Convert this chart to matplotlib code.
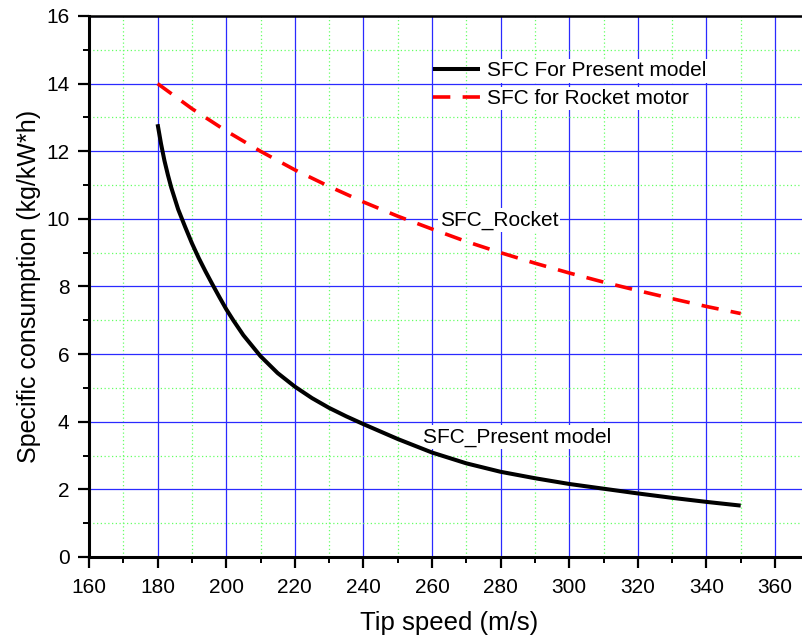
import matplotlib
matplotlib.use("Agg")
import matplotlib.pyplot as plt
from matplotlib.ticker import MultipleLocator

plt.rcParams['font.family'] = ['Liberation Sans', 'DejaVu Sans']

# Data
present_speed = [180, 181, 182, 183, 184, 186, 188, 190, 192, 194, 196, 198, 200, 202, 205,
                 210, 215, 220, 225, 230, 235, 240, 250, 260, 270, 280, 290, 300,
                 310, 320, 330, 340, 350]
present_sfc = [12.8, 12.22, 11.72, 11.3, 10.92, 10.28, 9.77, 9.28, 8.84, 8.44, 8.06, 7.69, 7.33,
               7.01, 6.56, 5.94, 5.44, 5.04, 4.70, 4.41, 4.16, 3.93, 3.49, 3.09, 2.77, 2.52,
               2.33, 2.16, 2.02, 1.88, 1.75, 1.63, 1.52]
rocket_speed = [180, 190, 200, 210, 220, 230, 240, 250, 260, 270, 280, 290, 300,
                310, 320, 330, 340, 350]
rocket_sfc = [14.0, 13.26, 12.6, 12.0, 11.45, 10.96, 10.5, 10.08, 9.7, 9.33, 9.0, 8.69, 8.4,
              8.13, 7.88, 7.64, 7.41, 7.2]

legend_labels = ["SFC For Present model", "SFC for Rocket motor"]
x_label = "Tip speed (m/s)"
y_label = "Specific consumption (kg/kW*h)"

W, H = 803, 638
fig = plt.figure(figsize=(W / 100, H / 100), dpi=100)
left, top, bottom = 89, 16, 557
ax_w = 720.3
ax = fig.add_axes([left / W, 1 - bottom / H, ax_w / W, (bottom - top) / H])

ax.plot(present_speed, present_sfc, color='black', lw=2.9, solid_capstyle='butt',
        solid_joinstyle='round', label=legend_labels[0], zorder=3)
ax.plot(rocket_speed, rocket_sfc, color='#FF0000', lw=2.6, dashes=(4.8, 3.4),
        dash_capstyle='butt', label=legend_labels[1], zorder=3)

ax.set_xlim(160, 370)
ax.set_ylim(0, 16)
ax.xaxis.set_major_locator(MultipleLocator(20))
ax.xaxis.set_minor_locator(MultipleLocator(10))
ax.yaxis.set_major_locator(MultipleLocator(2))
ax.yaxis.set_minor_locator(MultipleLocator(1))

ax.grid(which='major', color='#2a2aff', lw=0.9, zorder=0)
ax.grid(which='minor', color='#66ff66', lw=0.9, linestyle=(0, (1, 2)), zorder=0)
ax.set_axisbelow(True)

for s in ['left', 'bottom']:
    ax.spines[s].set_linewidth(2.2)
ax.spines['top'].set_linewidth(1.8)
ax.spines['right'].set_visible(False)

ax.tick_params(which='major', direction='out', length=8, width=1.6, labelsize=15, pad=6)
ax.tick_params(which='minor', direction='out', length=4.5, width=1.4)
ax.tick_params(axis='x', which='major', pad=7)

ax.set_xlabel(x_label, fontsize=18.5, labelpad=10)
ax.set_ylabel(y_label, fontsize=18, labelpad=4)

leg = ax.legend(loc='upper left', bbox_to_anchor=(0.4776, 0.916), frameon=False,
                fontsize=15, handlelength=2.25, handletextpad=0.35, labelspacing=0.42,
                borderpad=0, borderaxespad=0)
for t in leg.get_texts():
    t.set_bbox(dict(facecolor='white', edgecolor='none', pad=1.5))

ax.text(262.3, 9.97, "SFC_Rocket", fontsize=15, va='center', ha='left',
        bbox=dict(facecolor='white', edgecolor='none', pad=1.5), zorder=2)
ax.text(257.4, 3.55, "SFC_Present model", fontsize=15, va='center', ha='left',
        bbox=dict(facecolor='white', edgecolor='none', pad=1.5), zorder=2)

fig.savefig("out.png", dpi=100)
